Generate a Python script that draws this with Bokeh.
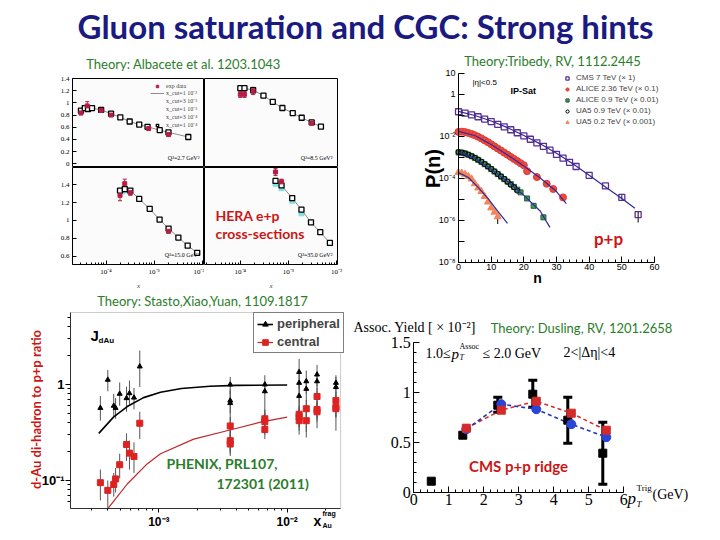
from math import pi
from bokeh.plotting import figure
from bokeh.layouts import column, row
from bokeh.models import (Range1d, Label, Legend, LegendItem, FixedTicker, BoxAnnotation,
                          CustomJSTickFormatter, ColumnDataSource, Whisker, TeeHead)
from bokeh.embed import file_html
from bokeh.resources import INLINE

# ------------------------------------------------------------------ data
# HERA e+p reduced cross sections (Albacete et al. 1203.1043)
q27_th_x = [3.0e-5, 3.6e-5, 4.2e-5, 5.1e-5, 7.9e-5, 1.27e-4, 1.98e-4, 3.1e-4, 4.9e-4, 7.3e-4, 1.31e-3, 1.99e-3, 5.15e-3]
q27_th_y = [0.874, 0.915, 0.90, 0.915, 0.885, 0.823, 0.762, 0.695, 0.644, 0.608, 0.552, 0.517, 0.44]
q27_ex_x = [3.0e-5, 4.05e-5, 7.9e-5, 1.27e-4, 7.7e-4, 2.0e-3]
q27_ex_y = [0.835, 0.95, 0.875, 0.80, 0.58, 0.48]
q27_ex_e = [0.03, 0.07, 0.03, 0.02, 0.02, 0.02]

q85_th_x = [1.0e-4, 1.22e-4, 1.85e-4, 3.03e-4, 4.73e-4, 7.5e-4, 1.23e-3, 1.89e-3, 3.05e-3, 4.75e-3]
q85_th_y = [1.242, 1.242, 1.207, 1.12, 1.017, 0.916, 0.833, 0.756, 0.679, 0.609]
q85_ex_x = [1.0e-4, 1.22e-4, 1.85e-4, 3.05e-3]
q85_ex_y = [1.14, 1.14, 1.196, 0.668]
q85_ex_e = [0.05, 0.05, 0.06, 0.02]

q15_th_x = [1.95e-4, 2.45e-4, 3.2e-4, 4.9e-4, 8.1e-4, 1.3e-3, 2.0e-3, 3.2e-3, 5.0e-3, 7.9e-3]
q15_th_y = [1.333, 1.35, 1.333, 1.24, 1.13, 1.01, 0.91, 0.81, 0.72, 0.64]
q15_ex_x = [1.95e-4, 2.45e-4, 3.2e-4, 2.0e-3]
q15_ex_y = [1.28, 1.41, 1.31, 0.88]
q15_ex_e = [0.06, 0.05, 0.03, 0.02]
q15_cy_x = [2.2e-4, 2.7e-4]
q15_cy_y = [1.32, 1.33]

q35_th_x = [5.4e-4, 7.2e-4, 1.2e-3, 1.87e-3, 2.95e-3, 4.6e-3, 7.3e-3]
q35_th_y = [1.44, 1.39, 1.25, 1.12, 0.98, 0.87, 0.75]
q35_ex_x = [5.4e-4, 7.2e-4]
q35_ex_y = [1.54, 1.43]
q35_ex_e = [0.04, 0.03]
q35_cy_x = [5.4e-4, 7.2e-4, 1.2e-3, 1.87e-3]
q35_cy_y = [1.41, 1.36, 1.22, 1.08]

hera_q2_labels = ["Q\u00b2=2.7 GeV\u00b2", "Q\u00b2=8.5 GeV\u00b2", "Q\u00b2=15.0 GeV\u00b2", "Q\u00b2=35.0 GeV\u00b2"]
hera_legend_labels = ["exp data", "x_cut=1 10\u207b\u00b2", "x_cut=3 10\u207b\u00b3",
                      "x_cut=1 10\u207b\u00b3", "x_cut=3 10\u207b\u2074", "x_cut=1 10\u207b\u2074"]

# Multiplicity distributions P(n) (Tribedy, RV 1112.2445)
cms_n = [0, 2, 4, 6, 8, 10, 12, 14, 16, 18, 20, 22, 24, 26, 28, 30, 32, 34, 36, 40, 45, 50, 55]
cms_p = [0.151, 0.129, 0.107, 0.0871, 0.0676, 0.0513, 0.038, 0.0288, 0.0209, 0.0151, 0.0107,
         0.00741, 0.00501, 0.00339, 0.00224, 0.00141, 0.000933, 0.000589, 0.000372, 0.000141,
         4.47e-5, 1.26e-5, 1.91e-6]
cms_eb_n = [50, 55]
cms_eb_lo = [1.0e-5, 8.0e-7]
cms_eb_hi = [1.6e-5, 2.7e-6]
cms_th_n = [0, 5, 10, 15, 20, 25, 30, 35, 40, 45, 50, 54]
cms_th_p = [0.158, 0.1, 0.055, 0.0263, 0.0112, 0.00447, 0.00158, 0.000501, 0.000141, 3.98e-5, 1.12e-5, 3.8e-6]

al236_n = list(range(0, 21)) + [21, 24, 27, 29, 32]
al236_p = [0.0166, 0.0170, 0.0162, 0.0148, 0.0132, 0.0115, 0.00977, 0.00813, 0.00661, 0.00537,
           0.00427, 0.00339, 0.00269, 0.00214, 0.00170, 0.00135, 0.00107, 0.000851, 0.000676,
           0.000537, 0.000427, 0.000224, 0.000117, 5.62e-5, 3.16e-5, 1.26e-5]
al236_th_n = [0, 5, 10, 15, 20, 25, 30, 33]
al236_th_p = [0.0174, 0.0112, 0.00417, 0.00132, 0.000398, 0.000105, 2.4e-5, 6.3e-6]

al09_n = list(range(0, 20)) + [21, 23, 26]
al09_p = [0.00174, 0.00170, 0.00155, 0.00135, 0.00115, 0.000955, 0.000776, 0.000617, 0.000479,
          0.000372, 0.000282, 0.000214, 0.000162, 0.000123, 9.33e-5, 7.08e-5, 5.37e-5, 3.98e-5,
          2.95e-5, 2.19e-5, 1.12e-5, 5.01e-6, 1.41e-6]
ua09_n = list(range(0, 19))
ua09_p = [0.00182, 0.00174, 0.00158, 0.00138, 0.00117, 0.000977, 0.000794, 0.000631, 0.00049,
          0.00038, 0.000288, 0.000219, 0.000166, 0.000126, 9.55e-5, 7.08e-5, 5.01e-5, 3.8e-5, 2.63e-5]
al09_th_n = [0, 5, 10, 15, 20, 25, 28]
al09_th_p = [0.0018, 0.000933, 0.000275, 7.08e-5, 1.58e-5, 2.82e-6, 4.7e-7]

ua02_n = list(range(0, 13))
ua02_p = [1.95e-4, 1.82e-4, 1.58e-4, 1.26e-4, 9.55e-5, 5.62e-5, 3.55e-5, 2.40e-5, 1.38e-5,
          7.59e-6, 3.98e-6, 2.51e-6, 1.51e-6]
ua02_eb_n = [12]
ua02_eb_lo = [6.8e-7]
ua02_eb_hi = [1.55e-6]
ua02_th_n = [0, 3, 6, 9, 12, 15]
ua02_th_p = [1.91e-4, 1.12e-4, 3.8e-5, 1.12e-5, 2.82e-6, 7.24e-7]

pn_legend_labels = ["CMS 7 TeV (\u00d7 1)", "ALICE 2.36 TeV (\u00d7 0.1)", "ALICE 0.9 TeV (\u00d7 0.01)",
                    "UA5 0.9 TeV (\u00d7 0.01)", "UA5 0.2 TeV (\u00d7 0.001)"]

# J_dAu (PHENIX PRL107, 172301; Stasto, Xiao, Yuan 1109.1817)
per_x = [3.5e-4, 4.0e-4, 4.45e-4, 4.6e-4, 4.95e-4, 5.6e-4, 5.9e-4, 6.4e-4, 7.1e-4,
         3.6e-3, 3.6e-3, 3.6e-3, 6.7e-3, 6.7e-3, 1.24e-2, 1.24e-2, 1.24e-2,
         1.41e-2, 1.41e-2, 1.71e-2, 1.71e-2, 2.4e-2, 2.4e-2]
per_y = [0.57, 1.12, 0.60, 0.57, 0.80, 0.72, 0.81, 0.73, 1.54, 0.68, 0.64, 1.00, 1.00, 0.85,
         1.35, 1.04, 0.76, 1.08, 0.90, 1.27, 1.08, 0.94, 1.04]
per_lo = [0.42, 0.85, 0.45, 0.44, 0.60, 0.52, 0.62, 0.55, 0.94, 0.50, 0.20, 0.80, 0.80, 0.30,
          0.90, 0.40, 0.30, 0.80, 0.28, 0.95, 0.35, 0.70, 0.33]
per_hi = [0.76, 1.42, 0.80, 0.72, 1.05, 0.95, 1.10, 0.92, 2.26, 0.90, 0.85, 1.20, 1.25, 1.05,
          1.85, 1.40, 1.00, 1.40, 1.10, 1.60, 1.30, 1.20, 1.25]
cen_x = [3.5e-4, 4.0e-4, 4.45e-4, 4.6e-4, 4.95e-4, 5.6e-4, 5.9e-4, 6.4e-4, 7.1e-4,
         3.6e-3, 3.6e-3, 3.6e-3, 6.7e-3, 6.7e-3, 6.7e-3, 1.24e-2, 1.24e-2, 1.24e-2,
         1.41e-2, 1.41e-2, 1.71e-2, 1.71e-2, 1.71e-2, 2.4e-2, 2.4e-2, 2.4e-2]
cen_y = [0.095, 0.079, 0.091, 0.104, 0.146, 0.237, 0.193, 0.178, 0.395, 0.24, 0.26, 0.37,
         0.34, 0.44, 0.41, 0.46, 0.42, 0.49, 0.56, 0.42, 0.75, 0.52, 0.55, 0.68, 0.58, 0.56]
cen_lo = [0.062, 0.052, 0.068, 0.075, 0.105, 0.16, 0.13, 0.12, 0.27, 0.18, 0.19, 0.28,
          0.27, 0.34, 0.32, 0.36, 0.33, 0.39, 0.45, 0.32, 0.6, 0.41, 0.44, 0.55, 0.46, 0.45]
cen_hi = [0.13, 0.10, 0.12, 0.135, 0.19, 0.31, 0.26, 0.25, 0.52, 0.30, 0.33, 0.46,
          0.42, 0.55, 0.51, 0.57, 0.52, 0.60, 0.69, 0.52, 0.92, 0.64, 0.67, 0.83, 0.71, 0.68]
per_th_x = [3.4e-4, 4.45e-4, 5.67e-4, 7.6e-4, 1.03e-3, 1.5e-3, 2.5e-3, 4.0e-3, 1.0e-2]
per_th_y = [0.31, 0.46, 0.59, 0.73, 0.83, 0.91, 0.96, 0.98, 0.99]
cen_th_x = [4.0e-4, 4.5e-4, 5.67e-4, 8.1e-4, 1.03e-3, 1.87e-3, 3.4e-3, 6.2e-3, 1.0e-2]
cen_th_y = [0.051, 0.062, 0.092, 0.149, 0.19, 0.27, 0.33, 0.405, 0.457]

# CMS p+p ridge (Dusling, RV 1201.2658)
ridge_x = [0.5, 1.4, 2.4, 3.4, 4.4, 5.4]
ridge_y = [0.11, 0.57, 0.87, 0.98, 0.72, 0.39]
ridge_eb_x = [2.4, 3.4, 4.4, 5.4]
ridge_eb_lo = [0.80, 0.85, 0.49, 0.08]
ridge_eb_hi = [0.95, 1.12, 0.95, 0.70]
th_x = [1.5, 2.5, 3.5, 4.5, 5.5]
th_red_y = [0.64, 0.82, 0.91, 0.79, 0.62]
th_blue_y = [0.63, 0.88, 0.83, 0.68, 0.55]

# ------------------------------------------------------------------ style
GREEN = "#2a7d2a"
RED = "#cc1515"
NAVY = "#1a1a80"
SLIDE = "Lato"
SANS = "Liberation Sans"
SERIF = "Liberation Serif"

POW_CODE = """
const sup = {"-":"\u207b","0":"\u2070","1":"\u00b9","2":"\u00b2","3":"\u00b3","4":"\u2074",
             "5":"\u2075","6":"\u2076","7":"\u2077","8":"\u2078","9":"\u2079"};
const e = Math.round(Math.log10(tick));
if (SKIPODD && e < 0 && (e % 2 !== 0)) return "";
if (e === 0) return "1";
if (e === 1) return "10";
return "10" + String(e).split("").map(c => sup[c]).join("");
"""


def pow_fmt(skip_odd=False):
    return CustomJSTickFormatter(code=POW_CODE.replace("SKIPODD", "true" if skip_odd else "false"))


def dec_fmt():
    return CustomJSTickFormatter(code="return String(Number(tick.toFixed(2)));")


def txt(p, x, y, s, size, color="black", font=SLIDE, style="normal", align="left",
        base="middle", angle=0.0):
    p.add_layout(Label(x=x, y=y, x_units="screen", y_units="screen", text=s,
                       text_font=font, text_font_size=f"{size}px", text_font_style=style,
                       text_color=color, text_align=align, text_baseline=base, angle=angle))


def style_axis(ax, font, size, style="normal", t_in=0, t_out=0, m_in=0, m_out=0, standoff=2):
    ax.major_label_text_font = font
    ax.major_label_text_font_size = f"{size}px"
    ax.major_label_text_font_style = style
    ax.major_label_text_color = "black"
    ax.major_tick_in = t_in
    ax.major_tick_out = t_out
    ax.minor_tick_in = m_in
    ax.minor_tick_out = m_out
    ax.major_label_standoff = standoff


def blank(w, h):
    p = figure(width=w, height=h, output_backend="svg", toolbar_location=None,
               x_axis_location=None, y_axis_location=None, min_border=0,
               x_range=Range1d(0, 1), y_range=Range1d(0, 1))
    p.grid.visible = False
    p.outline_line_color = None
    return p


def canvas_fig(w, h, xr, yr, xtype="linear", ytype="linear"):
    """Figure whose frame is the whole canvas; axes are drawn at fixed data locations."""
    p = figure(width=w, height=h, x_axis_type=xtype, y_axis_type=ytype,
               x_range=Range1d(*xr), y_range=Range1d(*yr), output_backend="svg",
               toolbar_location=None, min_border=0)
    p.grid.visible = False
    p.outline_line_color = None
    return p


# ------------------------------------------------------------------ header
hdr = blank(718, 48)
txt(hdr, 365, 23, "Gluon saturation and CGC: Strong hints", 33, color=NAVY, style="bold",
    align="center")

hera_title = blank(345, 26)
txt(hera_title, 183, 11, "Theory: Albacete et al. 1203.1043", 13, color=GREEN, align="center")

# ------------------------------------------------------------------ HERA panels
X_MAJ = [1e-4, 1e-3, 1e-2]
X_MIN = [m * 10.0 ** e for e in (-5, -4, -3, -2) for m in range(2, 10)]


def hera_panel(w, h, xr, yr, mb, left_axis, bottom_axis, yticks):
    p = figure(width=w, height=h, x_axis_type="log", x_range=Range1d(*xr), y_range=Range1d(*yr),
               x_axis_location="below" if bottom_axis else None,
               y_axis_location="left" if left_axis else None,
               output_backend="svg", toolbar_location=None,
               min_border_left=mb[0], min_border_right=mb[1], min_border_top=mb[2],
               min_border_bottom=mb[3])
    p.grid.visible = False
    p.outline_line_color = "black"
    p.outline_line_width = 1
    p.background_fill_color = "#fbfbfb"
    if left_axis:
        ax = p.yaxis[0]
        ax.ticker = FixedTicker(ticks=yticks)
        ax.formatter = dec_fmt()
        ax.axis_line_color = None
        style_axis(ax, SERIF, 7, t_in=4, standoff=3)
    if bottom_axis:
        ax = p.xaxis[0]
        ax.ticker = FixedTicker(ticks=X_MAJ, minor_ticks=X_MIN)
        ax.formatter = pow_fmt()
        ax.axis_line_color = None
        style_axis(ax, SERIF, 7, t_in=4, m_in=2, standoff=3)
        ax.axis_label = "x"
        ax.axis_label_text_font = SERIF
        ax.axis_label_text_font_size = "7px"
        ax.axis_label_standoff = 3
    return p


def hera_draw(p, thx, thy, ex, ey, ee, fw, q2):
    ln = p.line(thx, thy, line_color="#8c8c8c", line_width=1)
    sq = p.scatter(thx, thy, marker="square", size=5, fill_color="white", line_color="black",
                   line_width=1.3)
    lo = [a - b for a, b in zip(ey, ee)]
    hi = [a + b for a, b in zip(ey, ee)]
    src = ColumnDataSource(dict(x=ex, lo=lo, hi=hi))
    p.add_layout(Whisker(source=src, base="x", lower="lo", upper="hi", line_color="#b51d45",
                         line_width=1,
                         lower_head=TeeHead(size=4, line_color="#b51d45", line_width=1),
                         upper_head=TeeHead(size=4, line_color="#b51d45", line_width=1)))
    exr = p.scatter(ex, ey, marker="square", size=4, fill_color="#b51d45", line_color="#b51d45")
    txt(p, fw - 5, 7, q2, 6, font=SERIF, align="right", base="bottom")
    return ln, sq, exr


TOPY = [0, 0.2, 0.4, 0.6, 0.8, 1.0, 1.2, 1.4]
BOTY = [0.6, 0.8, 1.0, 1.2, 1.4]
tl = hera_panel(204, 93, (2.0e-5, 1.12e-2), (-0.06, 1.4), (72, 0, 4, 0), True, False, TOPY)
tr = hera_panel(141, 93, (1.8e-5, 1.05e-2), (-0.06, 1.4), (0, 8, 4, 0), False, False, TOPY)
bl = hera_panel(204, 126, (2.0e-5, 1.12e-2), (0.51, 1.59), (72, 0, 0, 29), True, True, BOTY)
br = hera_panel(141, 126, (1.8e-5, 1.05e-2), (0.51, 1.59), (0, 8, 0, 29), False, True, BOTY)

tl_ln, tl_sq, tl_ex = hera_draw(tl, q27_th_x, q27_th_y, q27_ex_x, q27_ex_y, q27_ex_e, 132, hera_q2_labels[0])
hera_draw(tr, q85_th_x, q85_th_y, q85_ex_x, q85_ex_y, q85_ex_e, 133, hera_q2_labels[1])
bl.scatter(q15_cy_x, q15_cy_y, marker="square", size=4, color="#7fe0e0")
hera_draw(bl, q15_th_x, q15_th_y, q15_ex_x, q15_ex_y, q15_ex_e, 132, hera_q2_labels[2])
br.scatter(q35_cy_x, q35_cy_y, marker="square", size=5, color="#7fe0e0")
hera_draw(br, q35_th_x, q35_th_y, q35_ex_x, q35_ex_y, q35_ex_e, 133, hera_q2_labels[3])

cross_r = tl.scatter(x=[], y=[], marker="cross", size=5, line_color="#1a1a60")
pink_r = tl.scatter(x=[], y=[], marker="square", size=3, color="#e070c0")
cyan_r = tl.scatter(x=[], y=[], marker="square", size=3, color="#7fe0e0")
tl.add_layout(Legend(items=[LegendItem(label=hera_legend_labels[0], renderers=[tl_ex]),
                            LegendItem(label=hera_legend_labels[1], renderers=[tl_ln]),
                            LegendItem(label=hera_legend_labels[2], renderers=[cross_r]),
                            LegendItem(label=hera_legend_labels[3], renderers=[pink_r]),
                            LegendItem(label=hera_legend_labels[4], renderers=[cyan_r]),
                            LegendItem(label=hera_legend_labels[5], renderers=[tl_sq])],
                     location=(78, 38), label_text_font=SERIF, label_text_font_size="6px",
                     glyph_height=6, glyph_width=14, label_height=6, spacing=0, padding=0,
                     margin=0, label_standoff=2, border_line_color=None,
                     background_fill_alpha=0))

txt(br, 11, 49, "HERA e+p", 14, color=RED, style="bold")
txt(br, 11, 31, "cross-sections", 14, color=RED, style="bold")

# ------------------------------------------------------------------ P(n)   (canvas x 345..718, y 48..293)
pn = canvas_fig(373, 245, (-34.6, 79.6), (3.34e-10, 155), ytype="log")
yax = pn.yaxis[0]
yax.fixed_location = 0
yax.bounds = (1e-8, 10)
yax.ticker = FixedTicker(ticks=[10.0 ** e for e in range(-8, 2)])
yax.formatter = pow_fmt(skip_odd=True)
style_axis(yax, SANS, 9, t_in=6, standoff=3)
xax = pn.xaxis[0]
xax.fixed_location = 1e-8
xax.bounds = (0, 60)
xax.ticker = FixedTicker(ticks=[0, 10, 20, 30, 40, 50, 60], minor_ticks=list(range(0, 61, 2)))
style_axis(xax, SANS, 9, t_in=6, m_in=3, standoff=2)

PURPLE = "#5b2d90"
LINE = "#2f2a9a"
r_cms = pn.scatter(cms_n, cms_p, marker="square", size=6, fill_color=None, line_color=PURPLE,
                   line_width=1.3)
r_a236 = pn.scatter(al236_n, al236_p, marker="circle", size=7, fill_color="#ee4a40",
                    line_color="#e03a30")
r_a09 = pn.scatter(al09_n, al09_p, marker="square", size=5, fill_color="#3f9a50",
                   line_color="#2c5a40")
r_ua09 = pn.scatter(ua09_n, ua09_p, marker="circle", size=5, fill_color=None, line_color="black",
                    line_width=1)
r_ua02 = pn.scatter(ua02_n, ua02_p, marker="triangle", size=7, fill_color="#f4845a",
                    line_color="#f4845a")
for en, elo, ehi in ((cms_eb_n, cms_eb_lo, cms_eb_hi), (ua02_eb_n, ua02_eb_lo, ua02_eb_hi)):
    pn.add_layout(Whisker(source=ColumnDataSource(dict(x=en, lo=elo, hi=ehi)), base="x",
                          lower="lo", upper="hi", line_color="black", line_width=1,
                          lower_head=None, upper_head=None))
for tn, tp in ((cms_th_n, cms_th_p), (al236_th_n, al236_th_p), (al09_th_n, al09_th_p),
               (ua02_th_n, ua02_th_p)):
    pn.line(tn, tp, line_color=LINE, line_width=1.2)

pn.add_layout(Legend(items=[LegendItem(label=pn_legend_labels[0], renderers=[r_cms]),
                            LegendItem(label=pn_legend_labels[1], renderers=[r_a236]),
                            LegendItem(label=pn_legend_labels[2], renderers=[r_a09]),
                            LegendItem(label=pn_legend_labels[3], renderers=[r_ua09]),
                            LegendItem(label=pn_legend_labels[4], renderers=[r_ua02])],
                     location=(217, 167), label_text_font=SANS, label_text_font_size="8px",
                     glyph_height=8, glyph_width=10, label_height=8, spacing=2, padding=0,
                     margin=0, label_standoff=4, border_line_color=None,
                     background_fill_alpha=0))
txt(pn, 207, 233, "Theory:Tribedy, RV, 1112.2445", 13, color=GREEN, align="center")
txt(pn, 127, 211, "|\u03b7|<0.5", 8, font=SANS)
txt(pn, 165, 203, "IP-Sat", 9, font=SANS, style="bold")
txt(pn, 263, 55, "p+p", 17, color=RED, style="bold", align="center")
txt(pn, 87, 125, "P(n)", 20, font=SANS, style="bold", align="center", angle=pi / 2)
txt(pn, 192, 16, "n", 14, font=SANS, style="bold", align="center")

# ------------------------------------------------------------------ J_dAu   (canvas x 0..345, y 293..538)
JX = (2.05e-4, 2.61e-2)     # plot box, x
JY = (0.0511, 5.62)         # plot box, y
jd = canvas_fig(345, 245, (5.83e-5, 2.85e-2), (0.0249, 8.87), xtype="log", ytype="log")
jd.add_layout(BoxAnnotation(left=JX[0], right=JX[1], bottom=JY[0], top=JY[1],
                            fill_alpha=0, line_color="#555555", line_width=1))
jy = jd.yaxis[0]
jy.fixed_location = JX[0]
jy.bounds = JY
jy.axis_line_color = "#222222"
jy.ticker = FixedTicker(ticks=[0.1, 1.0],
                        minor_ticks=[0.06, 0.07, 0.08, 0.09, 0.2, 0.3, 0.4, 0.5, 0.6, 0.7, 0.8,
                                     0.9, 2, 3, 4, 5])
jy.formatter = pow_fmt()
style_axis(jy, SANS, 13, style="bold", t_out=5, m_out=3, standoff=1)
jx = jd.xaxis[0]
jx.fixed_location = JY[0]
jx.bounds = JX
jx.axis_line_color = "#222222"
jx.ticker = FixedTicker(ticks=[1e-3, 1e-2],
                        minor_ticks=[3e-4, 4e-4, 5e-4, 6e-4, 7e-4, 8e-4, 9e-4, 2e-3, 3e-3, 4e-3,
                                     5e-3, 6e-3, 7e-3, 8e-3, 9e-3, 2e-2])
jx.formatter = pow_fmt()
style_axis(jx, SANS, 12, style="bold", t_out=4, m_out=2, standoff=2)

jd.add_layout(Whisker(source=ColumnDataSource(dict(x=per_x, lo=per_lo, hi=per_hi)), base="x",
                      lower="lo", upper="hi", line_color="#555555", line_width=1,
                      lower_head=None, upper_head=None))
jd.add_layout(Whisker(source=ColumnDataSource(dict(x=cen_x, lo=cen_lo, hi=cen_hi)), base="x",
                      lower="lo", upper="hi", line_color="#555555", line_width=1,
                      lower_head=None, upper_head=None))
per_line = jd.line(per_th_x, per_th_y, line_color="black", line_width=1.6)
cen_line = jd.line(cen_th_x, cen_th_y, line_color="#c0272d", line_width=1.2)
per_sc = jd.scatter(per_x, per_y, marker="triangle", size=5, color="black")
cen_sc = jd.scatter(cen_x, cen_y, marker="square", size=6, color="#dd2222")
jd.add_layout(Legend(items=[LegendItem(label="peripheral", renderers=[per_line, per_sc]),
                            LegendItem(label="central", renderers=[cen_line, cen_sc])],
                     location=(253, 185), label_text_font=SANS, label_text_font_size="13px",
                     label_text_font_style="bold", glyph_width=16, glyph_height=14,
                     label_height=14, spacing=3, padding=3, margin=0, label_standoff=4,
                     border_line_color="black", border_line_width=1,
                     background_fill_color="white", background_fill_alpha=1))
txt(jd, 202, 238, "Theory: Stasto,Xiao,Yuan, 1109.1817", 13, color=GREEN, align="center")
txt(jd, 90, 203, "J", 15, font=SANS, style="bold")
txt(jd, 98, 198, "dAu", 8, font=SANS, style="bold")
txt(jd, 166, 75, "PHENIX, PRL107,", 14, color=GREEN, style="bold")
txt(jd, 216, 55, "172301 (2011)", 14, color=GREEN, style="bold")
txt(jd, 313, 18, "x", 14, font=SANS, style="bold")
txt(jd, 322, 25, "frag", 7, font=SANS, style="bold")
txt(jd, 322, 13, "Au", 7, font=SANS, style="bold")
txt(jd, 35, 129, "d-Au di-hadron to p+p ratio", 13, color=RED, style="bold", align="center",
    angle=pi / 2)

# ------------------------------------------------------------------ CMS ridge   (canvas x 345..718, y 293..538)
cm = canvas_fig(373, 245, (-1.951, 8.706), (-0.463, 1.987))
cx = cm.xaxis[0]
cx.fixed_location = 0
cx.bounds = (0, 6)
cx.ticker = FixedTicker(ticks=[0, 1, 2, 3, 4, 5, 6], minor_ticks=[i / 5 for i in range(31)])
cx.formatter = dec_fmt()
style_axis(cx, SERIF, 16, t_in=6, m_in=3, standoff=2)
cy = cm.yaxis[0]
cy.fixed_location = 0
cy.bounds = (0, 1.5)
cy.ticker = FixedTicker(ticks=[0, 0.5, 1.0, 1.5], minor_ticks=[i / 10 for i in range(16)])
cy.formatter = dec_fmt()
style_axis(cy, SERIF, 16, t_in=6, m_in=3, standoff=3)

cm.line(th_x, th_red_y, line_color="#d03030", line_width=1.6, line_dash="4 3")
cm.line(th_x, th_blue_y, line_color="#2838b0", line_width=1.6, line_dash="4 3")
cm.add_layout(Whisker(source=ColumnDataSource(dict(x=ridge_eb_x, lo=ridge_eb_lo, hi=ridge_eb_hi)),
                      base="x", lower="lo", upper="hi", line_color="black", line_width=3,
                      lower_head=TeeHead(size=9, line_color="black", line_width=3),
                      upper_head=TeeHead(size=9, line_color="black", line_width=3)))
cm.scatter(ridge_x, ridge_y, marker="square", size=8, color="black")
cm.scatter(th_x, th_blue_y, marker="circle", size=9, fill_color="#2a44d8", line_color="#2a44d8")
cm.scatter(th_x, th_red_y, marker="square", size=8, fill_color="#d42a2a", line_color="#d42a2a")

txt(cm, 8, 211, "Assoc. Yield [ \u00d7 10\u207b\u00b2]", 14, font=SERIF)
txt(cm, 236, 211, "Theory: Dusling, RV, 1201.2658", 13, color=GREEN, align="center")
txt(cm, 80, 185, "1.0\u2264", 14, font=SERIF)
txt(cm, 106, 185, "p", 15, font=SERIF, style="italic")
txt(cm, 114, 181, "T", 8, font=SERIF, style="italic")
txt(cm, 114, 192, "Assoc", 8, font=SERIF)
txt(cm, 137, 185, "\u2264 2.0 GeV", 14, font=SERIF)
txt(cm, 218, 186, "2<|\u0394\u03b7|<4", 14, font=SERIF)
txt(cm, 173, 73, "CMS p+p ridge", 15, color=RED, style="bold", align="center")
txt(cm, 282, 40, "p", 17, font=SERIF, style="italic")
txt(cm, 291, 51, "Trig", 9, font=SERIF)
txt(cm, 291, 35, "T", 9, font=SERIF, style="italic")
txt(cm, 307, 44, "(GeV)", 14, font=SERIF)

# ------------------------------------------------------------------ layout
hera_block = column(hera_title, row(tl, tr), row(bl, br))
page = column(hdr, row(hera_block, pn), row(jd, cm))

open("out.html", "w").write(file_html(page, INLINE))
